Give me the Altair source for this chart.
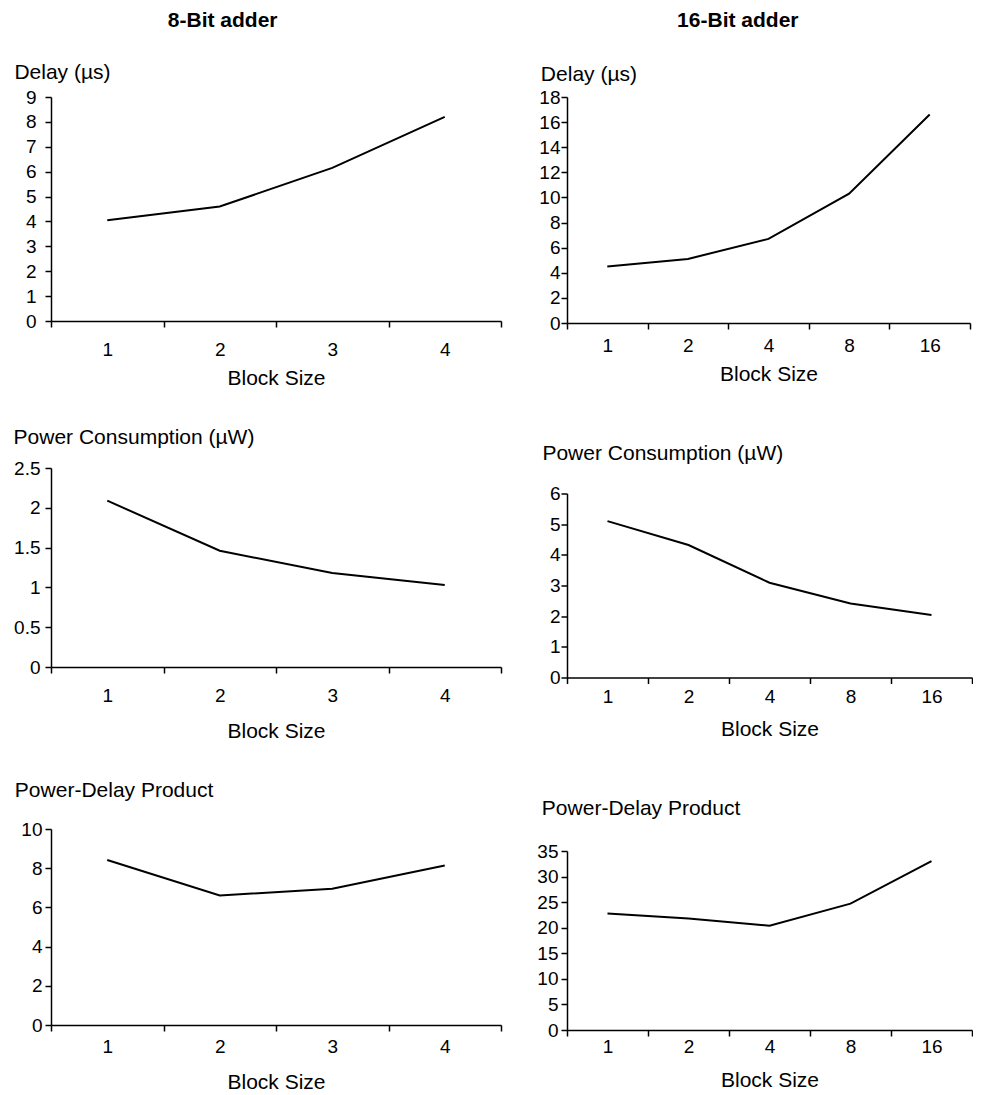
import altair as alt
import pandas as pd

# ---- data ----
blocks_8 = ["1", "2", "3", "4"]
delay_8 = [4.05, 4.6, 6.15, 8.2]
power_8 = [2.09, 1.46, 1.18, 1.03]
pdp_8 = [8.42, 6.61, 6.95, 8.14]

blocks_16 = ["1", "2", "4", "8", "16"]
delay_16 = [4.5, 5.1, 6.7, 10.3, 16.6]
power_16 = [5.1, 4.32, 3.09, 2.41, 2.04]
pdp_16 = [22.8, 21.8, 20.4, 24.7, 33.0]

col_titles = ["8-Bit adder", "16-Bit adder"]
panel_titles = ["Delay (\u00b5s)", "Power Consumption (\u00b5W)", "Power-Delay Product"]
x_title = "Block Size"

y_ticks = {
    "d8": [0, 1, 2, 3, 4, 5, 6, 7, 8, 9],
    "p8": [0, 0.5, 1, 1.5, 2, 2.5],
    "pd8": [0, 2, 4, 6, 8, 10],
    "d16": [0, 2, 4, 6, 8, 10, 12, 14, 16, 18],
    "p16": [0, 1, 2, 3, 4, 5, 6],
    "pd16": [0, 5, 10, 15, 20, 25, 30, 35],
}

FONT = "Liberation Sans"


def panel(blocks, values, title, ticks, width, height, t_offset, t_dx,
          x_lab_pad, x_title_pad, y_lab_pad):
    df = pd.DataFrame({"Block": blocks, "Value": values})
    return (
        alt.Chart(
            df,
            title=alt.TitleParams(
                text=title, anchor="start", frame="bounds", fontSize=21,
                fontWeight="normal", baseline="alphabetic", offset=t_offset,
                dx=t_dx, font=FONT, color="black",
            ),
        )
        .mark_line(color="black", strokeWidth=2)
        .encode(
            x=alt.X(
                "Block:O",
                sort=blocks,
                scale=alt.Scale(type="band", paddingInner=0, paddingOuter=0),
                axis=alt.Axis(
                    title=x_title, labelAngle=0, tickBand="extent",
                    labelPadding=x_lab_pad, titlePadding=x_title_pad,
                ),
            ),
            y=alt.Y(
                "Value:Q",
                scale=alt.Scale(domain=[0, ticks[-1]], nice=False, zero=True),
                axis=alt.Axis(
                    title=None, values=ticks, labelExpr="datum.value",
                    labelPadding=y_lab_pad,
                ),
            ),
        )
        .properties(width=width, height=height)
    )


p1 = panel(blocks_8, delay_8, panel_titles[0], y_ticks["d8"], 450, 224, -12, -11, 13, 8, 9)
p3 = panel(blocks_8, power_8, panel_titles[1], y_ticks["p8"], 450, 199, -6, 0, 13, 15, 5)
p5 = panel(blocks_8, pdp_8, panel_titles[2], y_ticks["pd8"], 450, 196, 2, -6, 6, 15, 3)

p2 = panel(blocks_16, delay_16, panel_titles[0], y_ticks["d16"], 403, 226, -14, 2, 7, 8, 1)
p4 = panel(blocks_16, power_16, panel_titles[1], y_ticks["p16"], 405, 184, 4, -7, 3.5, 12, 1)
p6 = panel(blocks_16, pdp_16, panel_titles[2], y_ticks["pd16"], 405, 179, 6, 5, 1, 13, 3)

col1 = alt.concat(
    p1, p3, p5, columns=1, align="none", spacing=39,
    title=alt.TitleParams(col_titles[0], fontSize=21, fontWeight="bold",
                          anchor="middle", baseline="top", offset=31,
                          dx=-35, font=FONT, color="black"),
)
col2 = alt.concat(
    p2, p4, p6, columns=1, align="none", spacing=58.5,
    title=alt.TitleParams(col_titles[1], fontSize=21, fontWeight="bold",
                          anchor="middle", baseline="top", offset=33,
                          dx=-17, font=FONT, color="black"),
)

chart = (
    alt.hconcat(col1, col2, spacing=34)
    .properties(padding={"left": 5, "top": 2, "right": 0, "bottom": 0}, background="white")
    .configure_view(stroke=None)
    .configure_axis(
        labelFont=FONT, titleFont=FONT, labelFontSize=19, titleFontSize=21,
        titleFontWeight="normal", labelColor="black", titleColor="black",
        domainColor="black", tickColor="black", domainWidth=1.5, tickWidth=1.5,
        tickSize=6, grid=False,
    )
)

chart.save("out.html", embed_options={"renderer": "svg", "actions": False})
